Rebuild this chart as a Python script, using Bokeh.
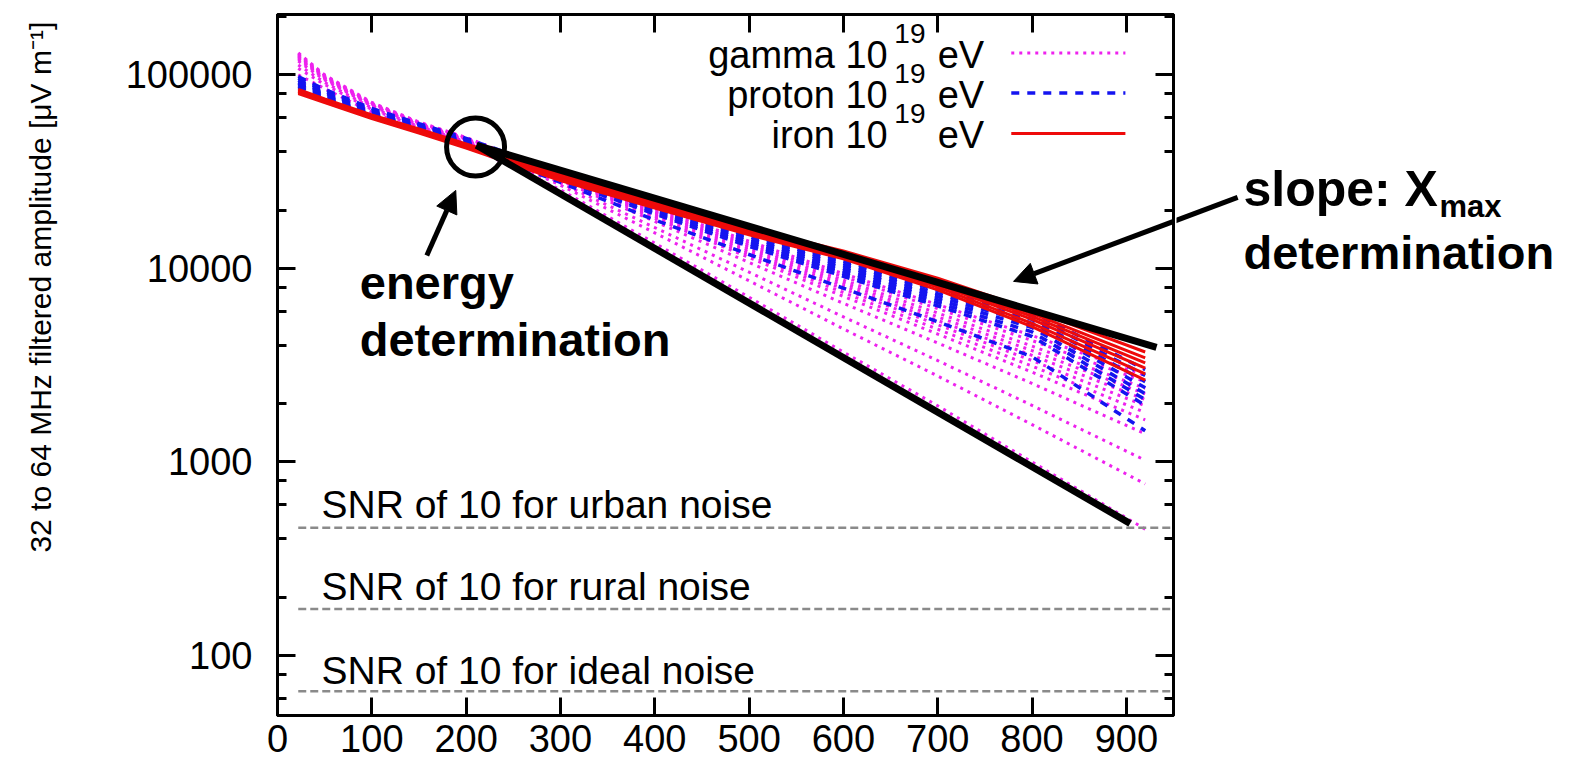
from bokeh.plotting import figure
from bokeh.layouts import row
from bokeh.models import (LinearAxis, LogAxis, LogTicker, FixedTicker,
                          NumeralTickFormatter, CustomJSTickFormatter,
                          Label, Arrow, NormalHead, Range1d)
from bokeh.embed import file_html
from bokeh.resources import INLINE

# ---------------------------------------------------------------- data
# distance to shower axis [m]
distance = [22, 50, 100, 150, 200, 300, 400, 500, 600, 700, 800, 920]

# 32-64 MHz filtered amplitude [uV/m], one row per simulated shower
gamma_amplitudes = [
    [130000, 100000, 72000, 57000, 47500, 30500, 20500, 13800, 9400, 6500, 4500, 2800],
    [128600, 99400, 71600, 56800, 47300, 30300, 20200, 13400, 9060, 6200, 4240, 2600],
    [127100, 98600, 71300, 56550, 47130, 30050, 19790, 13050, 8690, 5880, 3970, 2400],
    [126000, 98060, 71000, 56370, 46990, 29860, 19500, 12740, 8400, 5620, 3760, 2250],
    [124800, 97470, 70680, 56180, 46840, 29660, 19190, 12430, 8120, 5380, 3555, 2100],
    [123400, 96800, 70350, 55970, 46660, 29450, 18870, 12100, 7820, 5120, 3340, 1950],
    [122000, 96120, 70000, 55740, 46480, 29220, 18520, 11750, 7500, 4850, 3130, 1800],
    [120500, 95370, 69590, 55500, 46280, 28970, 18150, 11380, 7170, 4580, 2910, 1650],
    [117700, 93990, 68870, 55040, 45910, 28520, 17490, 10730, 6600, 4120, 2545, 1400],
    [112500, 91370, 67470, 54170, 45210, 27660, 16260, 9560, 5620, 3340, 1960, 1020],
    [108000, 89110, 66270, 53410, 44590, 26910, 15260, 8630, 4870, 2780, 1560, 770],
    [100000, 85000, 64000, 52000, 43500, 25500, 13500, 7100, 3700, 1950, 1000, 450],
]
proton_amplitudes = [
    [98000, 84000, 67000, 56000, 47000, 31500, 22000, 15300, 10900, 8000, 5950, 3000],
    [96000, 82500, 66000, 55200, 46300, 31000, 21500, 15000, 10600, 7700, 5700, 2800],
    [94000, 81000, 65000, 54500, 45700, 30500, 21000, 14600, 10300, 7400, 5450, 2600],
    [92000, 80000, 64000, 53800, 45100, 30000, 20500, 14200, 10000, 7150, 5200, 2420],
    [90500, 79000, 63200, 53200, 44600, 29500, 20000, 13800, 9700, 6900, 4950, 2250],
    [89000, 78000, 62500, 52600, 44100, 29000, 19500, 13400, 9400, 6650, 4700, 2100],
    [87500, 77000, 61800, 52000, 43600, 28600, 19100, 13000, 9100, 6400, 4450, 1960],
    [86000, 76000, 61000, 51500, 43200, 27800, 17800, 11800, 7900, 5300, 3500, 1450],
]
iron_amplitudes = [
    [84000, 75000, 62000, 52500, 44000, 30500, 22000, 16200, 12300, 8900, 6100, 3700],
    [83000, 74000, 61500, 52000, 43500, 30000, 21700, 16000, 12100, 8650, 5850, 3450],
    [82500, 73500, 61000, 51500, 43000, 29600, 21400, 15800, 11900, 8450, 5650, 3250],
    [82000, 73000, 60500, 51000, 42600, 29200, 21100, 15500, 11700, 8250, 5450, 3050],
    [81000, 72500, 60000, 50500, 42200, 28800, 20800, 15200, 11450, 8000, 5200, 2850],
    [80000, 72000, 59500, 50000, 41800, 28400, 20500, 14900, 11200, 7750, 5000, 2650],
]

# slope lines through the lateral distributions
flat_slope_x = [211, 932]
flat_slope_y = [43260, 3906]
steep_slope_x = [211, 904]
steep_slope_y = [43260, 481]

# amplitude needed for a signal-to-noise ratio of 10
snr_levels = [457, 174, 65.4]
snr_names = ["SNR of 10 for urban noise",
             "SNR of 10 for rural noise",
             "SNR of 10 for ideal noise"]
snr_start = 22

x_ticks = [0, 100, 200, 300, 400, 500, 600, 700, 800, 900]

# ---------------------------------------------------------------- style
FONT = "Liberation Sans"
MAGENTA = "#ee22ee"
BLUE = "#1414f0"
RED = "#ee0a0a"
GREY = "#8a8a8a"
Y_RANGE = (49, 205000)

LEFT_W = 100          # side panel holding the y title
FRAME_L, FRAME_R = 277, 1173

p = figure(width=FRAME_R + 3 - LEFT_W, height=772, x_range=(0, 950),
           y_range=Y_RANGE, y_axis_type="log", output_backend="svg",
           toolbar_location=None,
           min_border_left=FRAME_L - LEFT_W, min_border_right=3,
           min_border_top=14, min_border_bottom=57)
p.grid.visible = False
p.background_fill_color = "white"
p.border_fill_color = "white"
p.outline_line_color = "black"
p.outline_line_width = 3


def style_axis(ax, labels=True):
    ax.axis_line_color = "black"
    ax.axis_line_width = 3
    ax.major_tick_line_color = "black"
    ax.major_tick_line_width = 3
    ax.minor_tick_line_color = "black"
    ax.minor_tick_line_width = 3
    ax.major_tick_in = 18
    ax.major_tick_out = 0
    ax.minor_tick_in = 9
    ax.minor_tick_out = 0
    if labels:
        ax.major_label_text_font = FONT
        ax.major_label_text_font_size = "38px"
        ax.major_label_text_color = "black"
    else:
        ax.formatter = CustomJSTickFormatter(code="return ''")
        ax.major_label_text_font_size = "1px"
        ax.major_label_standoff = 0


# bottom axis
xb = p.xaxis[0]
xb.ticker = FixedTicker(ticks=x_ticks)
style_axis(xb)
xb.minor_tick_in = 0
xb.major_label_standoff = 9

# left axis
yl = p.yaxis[0]
yl.ticker = LogTicker()
yl.formatter = NumeralTickFormatter(format="0")
style_axis(yl)
yl.major_label_standoff = 25

# mirrored axes on top and right
xt = LinearAxis(ticker=FixedTicker(ticks=x_ticks))
style_axis(xt, labels=False)
xt.minor_tick_in = 0
p.add_layout(xt, "above")

yr = LogAxis(ticker=LogTicker())
style_axis(yr, labels=False)
p.add_layout(yr, "right")

# ---------------------------------------------------------------- curves
for amp in gamma_amplitudes:
    p.line(distance, amp, line_color=MAGENTA, line_width=3, line_dash="3 5")
for amp in proton_amplitudes:
    p.line(distance, amp, line_color=BLUE, line_width=3.5, line_dash="8 8")
for amp in iron_amplitudes:
    p.line(distance, amp, line_color=RED, line_width=3)

# SNR thresholds
for level in snr_levels:
    p.line([snr_start, 950], [level, level], line_color=GREY, line_width=2.5,
           line_dash="8 4")

label_baselines = [606, 227, 83.4]
for yb, name in zip(label_baselines, snr_names):
    p.add_layout(Label(x=46.6, y=yb, text=name, text_font=FONT,
                       text_font_size="39px", text_color="black",
                       text_align="left", text_baseline="alphabetic"))

# slope lines and the energy marker
p.line(flat_slope_x, flat_slope_y, line_color="black", line_width=7)
p.line(steep_slope_x, steep_slope_y, line_color="black", line_width=7)
p.scatter([210], [42360], marker="circle", size=58, fill_color=None,
          line_color="black", line_width=5)

# ---------------------------------------------------------------- legend
legend_rows = [
    ("gamma 10", MAGENTA, 3, "3 5", 126400, 163600, 129660),
    ("proton 10", BLUE, 3.5, "8 8", 78540, 101600, 80540),
    ("iron 10", RED, 3, "solid", 48800, 63150, 49700),
]
for text, color, width, dash, base, sup_base, line_y in legend_rows:
    p.add_layout(Label(x=647, y=base, text=text, text_font=FONT,
                       text_font_size="38px", text_color="black",
                       text_align="right", text_baseline="alphabetic"))
    p.add_layout(Label(x=654, y=sup_base, text="19", text_font=FONT,
                       text_font_size="28px", text_color="black",
                       text_align="left", text_baseline="alphabetic"))
    p.add_layout(Label(x=700, y=base, text="eV", text_font=FONT,
                       text_font_size="38px", text_color="black",
                       text_align="left", text_baseline="alphabetic"))
    p.line([778, 899], [line_y, line_y], line_color=color, line_width=width,
           line_dash=dash)

# ---------------------------------------------------------------- annotations
p.add_layout(Label(x=87.2, y=8480, text="energy", text_font=FONT,
                   text_font_size="47px", text_font_style="bold",
                   text_color="black", text_baseline="alphabetic"))
p.add_layout(Label(x=87.2, y=4303, text="determination", text_font=FONT,
                   text_font_size="47px", text_font_style="bold",
                   text_color="black", text_baseline="alphabetic"))
p.add_layout(Arrow(end=NormalHead(size=22, fill_color="black", line_color="black"),
                   x_start=158.3, y_start=11670, x_end=189, y_end=25300,
                   line_color="black", line_width=5))

# slope arrow: head inside the plot, tail continues in the side panel
slope_arrow_x = [1018, 780.4]
slope_arrow_y = [23270, 8570]
p.add_layout(Arrow(end=NormalHead(size=22, fill_color="black", line_color="black"),
                   x_start=slope_arrow_x[0], y_start=slope_arrow_y[0],
                   x_end=slope_arrow_x[1], y_end=slope_arrow_y[1],
                   line_color="black", line_width=5))

# ---------------------------------------------------------------- left panel
# pixel coordinates, y measured upwards from the bottom edge
left = figure(width=LEFT_W, height=772, x_range=Range1d(0, LEFT_W),
              y_range=Range1d(0, 772), output_backend="svg",
              toolbar_location=None, x_axis_location=None,
              y_axis_location=None, min_border=0)
left.grid.visible = False
left.outline_line_color = None
left.background_fill_color = "white"
left.border_fill_color = "white"
left.add_layout(Label(x=40, y=764, angle=1.5707963,
                      text="32 to 64 MHz filtered amplitude [\u03bcV m\u207b\u00b9]",
                      text_font=FONT, text_font_size="30px", text_color="black",
                      text_align="right", text_baseline="middle"))

# ---------------------------------------------------------------- right panel
# continues the plot's data coordinates to the right of the frame
px_per_unit = (FRAME_R - FRAME_L) / 950
side = figure(width=1585 - FRAME_R - 3, height=772,
              x_range=Range1d((FRAME_R + 3 - FRAME_L) / px_per_unit,
                              (1585 - FRAME_L) / px_per_unit),
              y_range=Range1d(*Y_RANGE), y_axis_type="log",
              output_backend="svg", toolbar_location=None,
              x_axis_location=None, y_axis_location=None,
              min_border_left=0, min_border_right=0,
              min_border_top=14, min_border_bottom=57)
side.grid.visible = False
side.outline_line_color = None
side.background_fill_color = "white"
side.border_fill_color = "white"

side.line(slope_arrow_x, slope_arrow_y, line_color="black", line_width=5)
side.add_layout(Label(x=1024.2, y=25600, text="slope: X", text_font=FONT,
                      text_font_size="50px", text_font_style="bold",
                      text_color="black", text_baseline="alphabetic"))
side.add_layout(Label(x=1232, y=20900, text="max", text_font=FONT,
                      text_font_size="31px", text_font_style="bold",
                      text_color="black", text_baseline="alphabetic"))
side.add_layout(Label(x=1024.2, y=12100, text="determination", text_font=FONT,
                      text_font_size="47px", text_font_style="bold",
                      text_color="black", text_baseline="alphabetic"))

open("out.html", "w").write(file_html(row(left, p, side), INLINE))
